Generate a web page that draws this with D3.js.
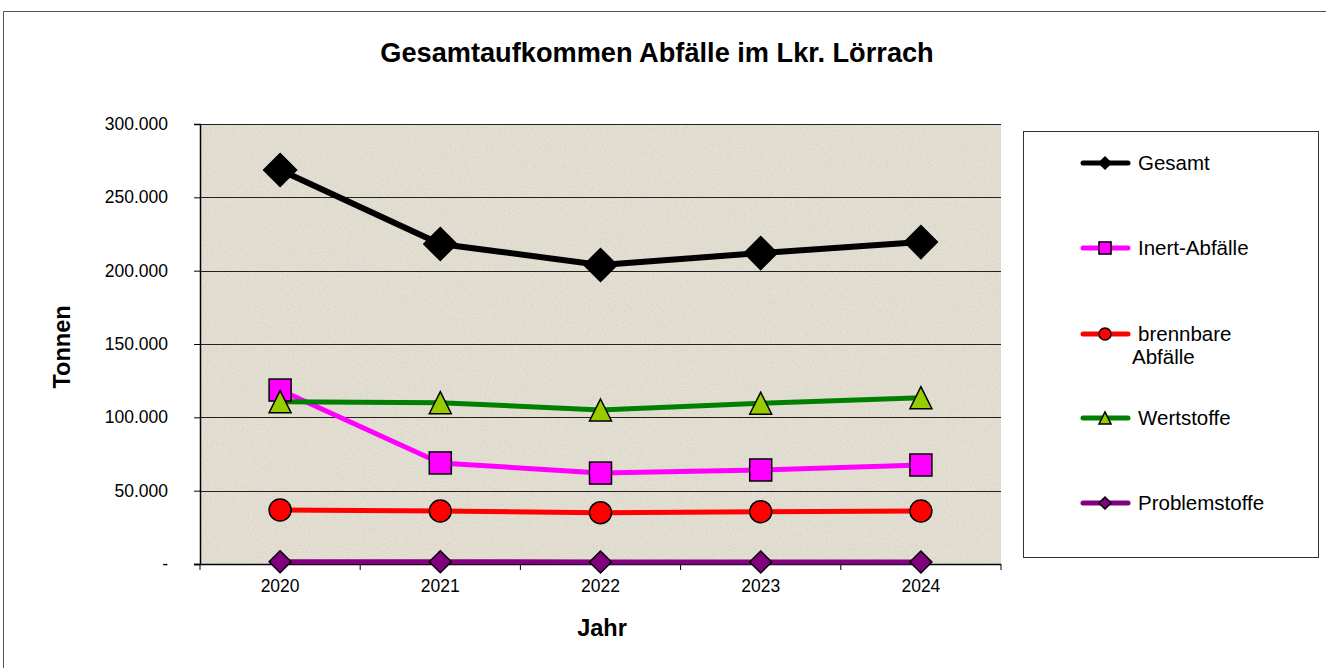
<!DOCTYPE html>
<html lang="de">
<head>
<meta charset="UTF-8">
<title>Gesamtaufkommen Abfälle</title>
<script src="https://d3js.org/d3.v7.min.js"></script>
<style>
  body { margin: 0; background: #fff; }
  svg { display: block; font-family: Arial, "Liberation Sans", sans-serif; }
</style>
</head>
<body>
<svg width="1326" height="668"></svg>
<script>
// data
const years = ["2020", "2021", "2022", "2023", "2024"];
const gesamt = [268600, 218200, 203900, 212000, 219500];
const inert = [118600, 68900, 62000, 64100, 67500];
const brennbar = [36800, 36100, 35000, 35700, 36100];
const wertstoffe = [110700, 110000, 105000, 109600, 113400];
const problemstoffe = [1500, 1500, 1400, 1400, 1400];
const yTicks = [0, 50000, 100000, 150000, 200000, 250000, 300000];

const series = [
  { name: ["Gesamt"], values: gesamt, line: "#000000", fill: "#000000", shape: "diamondBig", lw: 6 },
  { name: ["Inert-Abfälle"], values: inert, line: "#ff00ff", fill: "#ff00ff", shape: "square", lw: 5 },
  { name: ["brennbare", "Abfälle"], values: brennbar, line: "#ff0000", fill: "#ff0000", shape: "circle", lw: 5 },
  { name: ["Wertstoffe"], values: wertstoffe, line: "#008000", fill: "#99cc00", shape: "triangle", lw: 5 },
  { name: ["Problemstoffe"], values: problemstoffe, line: "#800080", fill: "#800080", shape: "diamond", lw: 5 }
];

const svg = d3.select("svg");
const pLeft = 200, pRight = 1001, pTop = 124, pBottom = 564;

const x = d3.scaleBand().domain(years).range([pLeft, pRight]);
const y = d3.scaleLinear().domain([0, 300000]).range([pBottom, pTop]);
const de = d3.formatLocale({ decimal: ",", thousands: ".", grouping: [3], currency: ["", "€"] });
const fmt = v => v === 0 ? "-" : de.format(",")(v);

// outer frame
svg.append("path").attr("d", "M3.5,668 V11.5 H1326").attr("fill", "none").attr("stroke", "#555").attr("stroke-width", 1);

// plot background with a light grain
const defs = svg.append("defs");
const f = defs.append("filter").attr("id", "grain").attr("x", 0).attr("y", 0).attr("width", 1).attr("height", 1);
f.append("feTurbulence").attr("type", "fractalNoise").attr("baseFrequency", 0.7).attr("numOctaves", 2).attr("seed", 4);
f.append("feColorMatrix").attr("type", "matrix")
  .attr("values", "0 0 0 0 0.55  0 0 0 0 0.52  0 0 0 0 0.45  0.9 0 0 0 -0.38");

svg.append("rect").attr("x", pLeft).attr("y", pTop).attr("width", pRight - pLeft).attr("height", pBottom - pTop).attr("fill", "#e4dfd3");
svg.append("rect").attr("x", pLeft).attr("y", pTop).attr("width", pRight - pLeft).attr("height", pBottom - pTop).attr("filter", "url(#grain)");

// gridlines
svg.append("g").selectAll("line").data(yTicks.slice(1)).join("line")
  .attr("x1", pLeft).attr("x2", pRight)
  .attr("y1", d => Math.round(y(d)) + 0.5).attr("y2", d => Math.round(y(d)) + 0.5)
  .attr("stroke", "#222").attr("stroke-width", 1);

// y axis
const yAxis = svg.append("g").attr("transform", `translate(${pLeft},0)`)
  .call(d3.axisLeft(y).tickValues(yTicks).tickFormat(fmt).tickSize(6).tickPadding(26));
yAxis.select(".domain").attr("stroke", "#000").attr("stroke-width", 1.5);
yAxis.selectAll("text").attr("font-size", 17.5).attr("fill", "#000").attr("font-family", "Arial, 'Liberation Sans', sans-serif");

// x axis: ticks between categories
const xAxis = svg.append("g").attr("transform", `translate(0,${pBottom})`);
xAxis.append("line").attr("x1", pLeft - 6).attr("x2", pRight).attr("y1", 0.5).attr("y2", 0.5).attr("stroke", "#000").attr("stroke-width", 1.5);
xAxis.selectAll("line.tk").data(years.concat(["end"])).join("line").attr("class", "tk")
  .attr("x1", (d, i) => pLeft + i * x.bandwidth()).attr("x2", (d, i) => pLeft + i * x.bandwidth())
  .attr("y1", 0).attr("y2", 6).attr("stroke", "#000");
xAxis.selectAll("text").data(years).join("text")
  .attr("x", d => x(d) + x.bandwidth() / 2).attr("y", 28)
  .attr("text-anchor", "middle").attr("font-size", 17.5).text(d => d);

// lines
const line = d3.line().x((d, i) => x(years[i]) + x.bandwidth() / 2).y(d => y(d));
series.forEach(s => {
  svg.append("path").datum(s.values).attr("d", line)
    .attr("fill", "none").attr("stroke", s.line).attr("stroke-width", s.lw)
    .attr("stroke-linejoin", "round");
});

function marker(g, shape, fill, scale) {
  let el;
  if (shape === "diamondBig") {
    const r = 16.5 * scale;
    el = g.append("path").attr("d", `M0,${-r} L${r},0 L0,${r} L${-r},0 Z`);
  } else if (shape === "diamond") {
    const r = 11 * scale;
    el = g.append("path").attr("d", `M0,${-r} L${r},0 L0,${r} L${-r},0 Z`);
  } else if (shape === "square") {
    const h = 11 * scale;
    el = g.append("rect").attr("x", -h).attr("y", -h).attr("width", 2 * h).attr("height", 2 * h);
  } else if (shape === "circle") {
    el = g.append("circle").attr("r", 11 * scale);
  } else {
    const h = 11 * scale;
    el = g.append("path").attr("d", `M0,${-h} L${h},${h} L${-h},${h} Z`);
  }
  el.attr("fill", fill).attr("stroke", "#000").attr("stroke-width", 1.5);
}

series.forEach(s => {
  s.values.forEach((v, i) => {
    const g = svg.append("g").attr("transform", `translate(${x(years[i]) + x.bandwidth() / 2},${y(v)})`);
    marker(g, s.shape, s.fill, 1);
  });
});

// title and axis labels
svg.append("text").attr("x", 657).attr("y", 62).attr("text-anchor", "middle")
  .attr("font-size", 27.2).attr("font-weight", "bold").text("Gesamtaufkommen Abfälle im Lkr. Lörrach");
svg.append("text").attr("x", 602).attr("y", 636).attr("text-anchor", "middle")
  .attr("font-size", 23.5).attr("font-weight", "bold").text("Jahr");
svg.append("text").attr("transform", "translate(70,347) rotate(-90)").attr("text-anchor", "middle")
  .attr("font-size", 23.5).attr("font-weight", "bold").text("Tonnen");

// legend
svg.append("rect").attr("x", 1023.5).attr("y", 131.5).attr("width", 295).attr("height", 426)
  .attr("fill", "#fff").attr("stroke", "#333").attr("stroke-width", 1);
const legY = [163, 248, 334, 418, 503];
series.forEach((s, i) => {
  const g = svg.append("g").attr("transform", `translate(0,${legY[i]})`);
  g.append("line").attr("x1", 1083).attr("x2", 1128).attr("y1", 0).attr("y2", 0)
    .attr("stroke", s.line).attr("stroke-width", 5).attr("stroke-linecap", "round");
  const m = g.append("g").attr("transform", "translate(1105,0)");
  if (s.shape === "diamondBig") marker(m, "diamond", s.fill, 0.55);
  else marker(m, s.shape, s.fill, 0.55);
  s.name.forEach((t, j) => {
    g.append("text").attr("x", j === 0 ? 1138 : 1132).attr("y", 7 + j * 23)
      .attr("font-size", 20.5).text(t);
  });
});
</script>
</body>
</html>
